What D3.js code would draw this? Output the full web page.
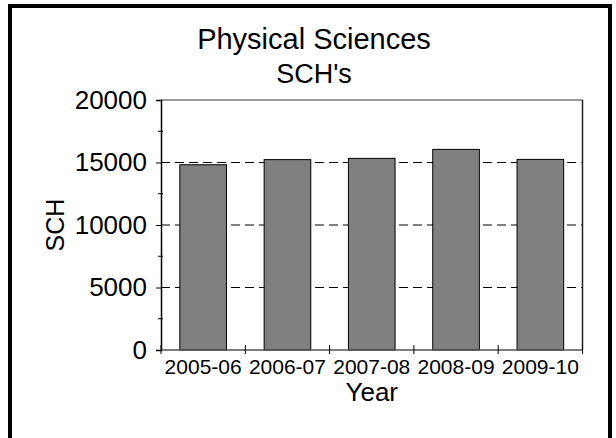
<!DOCTYPE html>
<html>
<head>
<meta charset="utf-8">
<script src="https://cdn.jsdelivr.net/npm/d3@7"></script>
<style>
  html, body { margin: 0; padding: 0; background: #fff; }
  svg { display: block; }
  text { font-family: "Liberation Sans", Arial, sans-serif; fill: #000; }
</style>
</head>
<body>
<script>
// Physical Sciences student credit hours by academic year
const years = ["2005-06", "2006-07", "2007-08", "2008-09", "2009-10"];
const sch = [14820, 15230, 15330, 16050, 15250];
const yTicks = [0, 5000, 10000, 15000, 20000];
const yMinorTicks = [2500, 7500, 12500, 17500];
const gridValues = [5000, 10000, 15000];

const W = 616, H = 438;
const plot = { left: 161, right: 582.5, top: 100, bottom: 350 };

const svg = d3.select("body").append("svg")
  .attr("width", W).attr("height", H);

svg.append("rect").attr("width", W).attr("height", H).attr("fill", "#fff");

// outer frame (runs off the bottom edge)
svg.append("path")
  .attr("d", "M10,440 V6 H610 V440")
  .attr("fill", "none").attr("stroke", "#000").attr("stroke-width", 4);

const x = d3.scaleBand()
  .domain(years)
  .range([plot.left, plot.right])
  .paddingInner(0.447)
  .paddingOuter(0.2235);

const y = d3.scaleLinear()
  .domain([0, 20000])
  .range([plot.bottom, plot.top]);

// dashed gridlines behind the bars
svg.append("g").selectAll("line")
  .data(gridValues)
  .join("line")
  .attr("x1", plot.left).attr("x2", plot.right)
  .attr("y1", d => y(d)).attr("y2", d => y(d))
  .attr("stroke", "#000").attr("stroke-width", 1)
  .attr("stroke-dasharray", "9,5");

// plot box: top and right edges
svg.append("line")
  .attr("x1", plot.left).attr("x2", plot.right)
  .attr("y1", plot.top).attr("y2", plot.top)
  .attr("stroke", "#777").attr("stroke-width", 1.5);
svg.append("line")
  .attr("x1", plot.right).attr("x2", plot.right)
  .attr("y1", plot.top).attr("y2", plot.bottom)
  .attr("stroke", "#222").attr("stroke-width", 1.5);

// bars
svg.append("g").selectAll("rect")
  .data(years.map((yr, i) => ({ yr, v: sch[i] })))
  .join("rect")
  .attr("x", d => x(d.yr))
  .attr("y", d => y(d.v))
  .attr("width", x.bandwidth())
  .attr("height", d => y(0) - y(d.v))
  .attr("fill", "#808080")
  .attr("stroke", "#000").attr("stroke-width", 1);

// y axis
const yAxis = svg.append("g")
  .attr("transform", `translate(${plot.left},0)`)
  .call(d3.axisLeft(y).tickValues(yTicks).tickSize(5).tickPadding(9).tickFormat(d3.format("d")));
yAxis.select(".domain").attr("stroke", "#000").attr("stroke-width", 1.5);
yAxis.selectAll(".tick line").attr("stroke", "#000");
yAxis.selectAll(".tick text")
  .style("font-family", "'Liberation Sans', Arial, sans-serif")
  .style("font-size", "26px").attr("fill", "#000");

yAxis.selectAll(".minor")
  .data(yMinorTicks)
  .join("line")
  .attr("class", "minor")
  .attr("x1", -3).attr("x2", 2)
  .attr("y1", d => y(d)).attr("y2", d => y(d))
  .attr("stroke", "#000");

// x axis: ticks sit on the category boundaries
const bounds = years.map(yr => x(yr) - x.step() * x.paddingInner() / 2)
  .concat([plot.right]);
const xAxisG = svg.append("g");
xAxisG.append("line")
  .attr("x1", plot.left).attr("x2", plot.right)
  .attr("y1", plot.bottom).attr("y2", plot.bottom)
  .attr("stroke", "#555").attr("stroke-width", 1.5);
xAxisG.selectAll(".bound")
  .data(bounds)
  .join("line")
  .attr("class", "bound")
  .attr("x1", d => d).attr("x2", d => d)
  .attr("y1", plot.bottom - 5).attr("y2", plot.bottom + 4)
  .attr("stroke", "#000");
xAxisG.selectAll(".lbl")
  .data(years)
  .join("text")
  .attr("class", "lbl")
  .attr("x", d => x(d) + x.bandwidth() / 2)
  .attr("y", 374)
  .attr("text-anchor", "middle")
  .style("font-size", "21px")
  .text(d => d);

// axis titles
svg.append("text")
  .attr("x", (plot.left + plot.right) / 2).attr("y", 401)
  .attr("text-anchor", "middle")
  .style("font-size", "26px")
  .text("Year");

svg.append("text")
  .attr("transform", `translate(64,${(plot.top + plot.bottom) / 2}) rotate(-90)`)
  .attr("text-anchor", "middle")
  .style("font-size", "25px")
  .text("SCH");

// titles
svg.append("text")
  .attr("x", 314).attr("y", 49)
  .attr("text-anchor", "middle")
  .style("font-size", "29px")
  .text("Physical Sciences");
svg.append("text")
  .attr("x", 314).attr("y", 83)
  .attr("text-anchor", "middle")
  .style("font-size", "27px")
  .text("SCH's");
</script>
</body>
</html>
